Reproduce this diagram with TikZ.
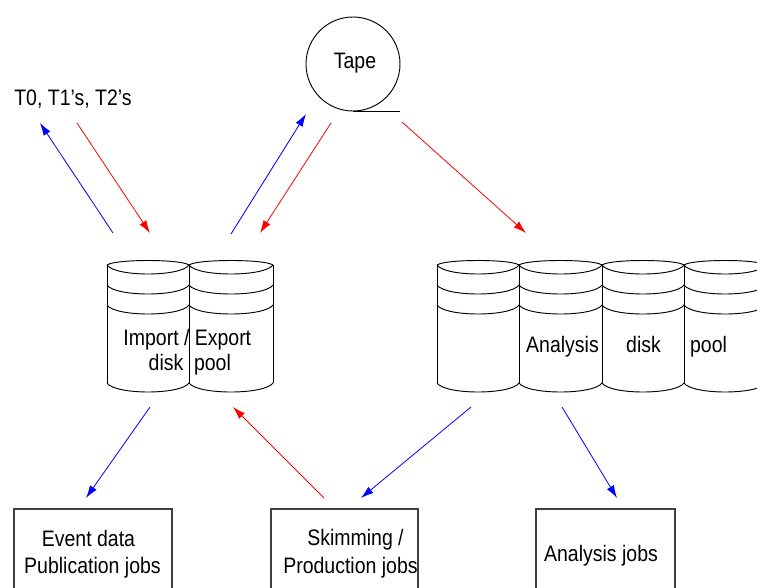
\documentclass[tikz,border=0pt]{standalone}
\usepackage{fontspec}
\setmainfont{Liberation Sans}[FakeStretch=0.87]
\usetikzlibrary{arrows.meta}
\begin{document}
\begin{tikzpicture}[x=0.75pt,y=-0.75pt,
  diskline/.style={black,line width=0.7pt},
  boxline/.style={black!75,line width=0.8pt},
  lbl/.style={inner sep=0pt,text height=0.716em,text depth=0pt,font=\fontsize{16.8pt}{19pt}\selectfont},
  flow/.style={line width=0.6pt,-{Latex[length=9.5pt,width=6pt]}},
  bflow/.style={flow,blue},
  rflow/.style={flow,red}]
\useasboundingbox (0,0) rectangle (757,588);
\clip (0,0) rectangle (757,588);
% tape
\node[draw,circle,minimum size=70.5pt,line width=0.7pt,inner sep=0pt] (tape) at (353,64) {};
\node[lbl] (tapelbl) at (355,64) {Tape};
\coordinate (tapeA) at (353,111);
\coordinate (tapeB) at (400,111);
\draw[line width=0.7pt] (tapeA) -- (tapeB);
% disks
\foreach \a/\b in {107/189,189/273,437/519,519/602,602/684,684/766}{
  \draw[diskline] (\a,265) -- (\a,383) (\b,265) -- (\b,383);
  \draw[diskline] (\a,265) .. controls ({\a+0.1*(\b-\a)},259) and ({\b-0.1*(\b-\a)},259) .. (\b,265);
  \foreach \y in {265,285,305,383}
    \draw[diskline] (\a,\y) .. controls ({\a+0.1*(\b-\a)},{\y+12}) and ({\b-0.1*(\b-\a)},{\y+12}) .. (\b,\y);
}
% disk labels
\node[lbl] (imp) at (156.5,341) {Import /};
\node[lbl] (dsk1) at (166,366) {disk};
\node[lbl] (exp) at (223,341) {Export};
\node[lbl] (pool1) at (212.5,366) {pool};
\node[lbl] (ana) at (562.5,347.5) {Analysis};
\node[lbl] (dsk2) at (643.5,347.5) {disk};
\node[lbl] (pool2) at (708.5,347.5) {pool};
\node[lbl] (tier) at (73,100.5) {T0, T1’s, T2’s};
% boxes
\draw[boxline] (14,600) |- (172,509) -- (172,600);
\draw[boxline] (271,600) |- (418,509) -- (418,600);
\draw[boxline] (536,600) |- (675,509) -- (675,600);
\node[lbl] (ev1) at (88.5,541.5) {Event data};
\node[lbl] (ev2) at (92.5,568.5) {Publication jobs};
\node[lbl] (sk1) at (355.5,540.5) {Skimming /};
\node[lbl] (sk2) at (350.5,568.5) {Production jobs};
\node[lbl] (aj) at (601,556.5) {Analysis jobs};
% arrow end points
\coordinate (p1s) at (113,233); \coordinate (p1e) at (40,123);
\coordinate (p2s) at (77,123);  \coordinate (p2e) at (150,233);
\coordinate (p3s) at (231,234); \coordinate (p3e) at (306,114);
\coordinate (p4s) at (331,123); \coordinate (p4e) at (260,233);
\coordinate (p5s) at (402,122); \coordinate (p5e) at (526,233);
\coordinate (p6s) at (150,407); \coordinate (p6e) at (86,498);
\coordinate (p7s) at (324,498); \coordinate (p7e) at (233,407);
\coordinate (p8s) at (471,407); \coordinate (p8e) at (361,498);
\coordinate (p9s) at (562,407); \coordinate (p9e) at (617,498);
\draw[bflow] (p1s) -- (p1e);
\draw[rflow] (p2s) -- (p2e);
\draw[bflow] (p3s) -- (p3e);
\draw[rflow] (p4s) -- (p4e);
\draw[rflow] (p5s) -- (p5e);
\draw[bflow] (p6s) -- (p6e);
\draw[rflow] (p7s) -- (p7e);
\draw[bflow] (p8s) -- (p8e);
\draw[bflow] (p9s) -- (p9e);
\end{tikzpicture}
\end{document}
